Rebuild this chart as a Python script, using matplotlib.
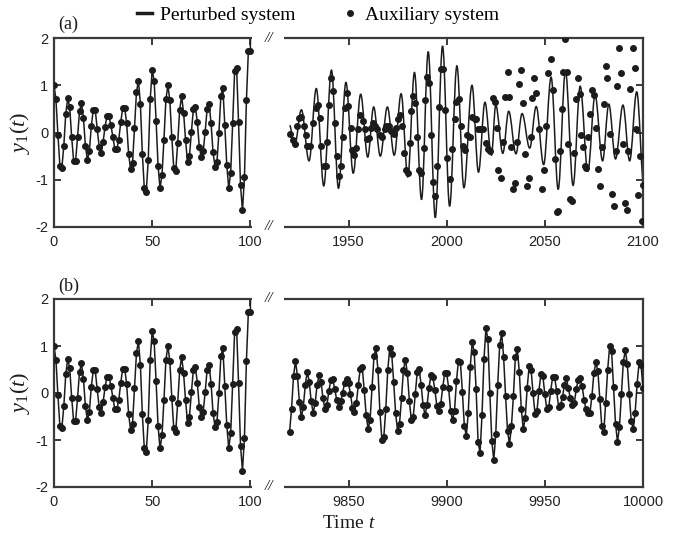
import numpy as np
import matplotlib.pyplot as plt
from matplotlib.lines import Line2D
from matplotlib.path import Path
from matplotlib.patches import PathPatch, Rectangle

plt.rcParams['font.family'] = 'Liberation Sans'
plt.rcParams['mathtext.fontset'] = 'custom'
plt.rcParams['mathtext.rm'] = 'Liberation Serif'
plt.rcParams['mathtext.it'] = 'Liberation Serif:italic'

ink = '#1c1c1c'
frame = '#3a3a3a'
serif = 'Liberation Serif'

### first block, t = 0 ... 100 (same in both panels)
t_first = np.arange(0, 101)
y_first = [1.0, 0.7, -0.05, -0.7, -0.75, -0.28, 0.4, 0.72, 0.53, -0.1,
           -0.6, -0.6, -0.1, 0.45, 0.63, 0.3, -0.28, -0.58, -0.4, 0.13,
           0.48, 0.48, 0.08, -0.3, -0.43, -0.2, 0.12, 0.35, 0.35, 0.15,
           -0.1, -0.35, -0.35, -0.15, 0.22, 0.52, 0.52, 0.2, -0.45, -0.78,
           -0.65, 0.1, 0.85, 1.1, 0.6, -0.45, -1.18, -1.25, -0.58, 0.7,
           1.32, 1.1, 0.25, -0.7, -1.18, -0.9, -0.15, 0.7, 1.0, 0.68,
           -0.1, -0.75, -0.82, -0.22, 0.48, 0.77, 0.42, -0.15, -0.63, -0.5,
           0.02, 0.5, 0.55, 0.22, -0.3, -0.52, -0.4, 0.02, 0.5, 0.6,
           0.2, -0.42, -0.72, -0.62, 0.0, 0.78, 0.95, 0.15, -0.68, -1.18,
           -0.85, 0.2, 1.3, 1.37, 0.22, -1.12, -1.65, -0.95, 0.68, 1.72,
           1.72]
# the curve leaves the box right after t = 100
t_first_end, y_first_end = 100.2, 2.4

### panel (a), second block: perturbed system (extrema of the curve)
a_curve_t = [1920.0, 1922.5, 1926.0, 1929.9, 1933.6, 1937.4, 1941.3, 1944.9,
             1948.7, 1952.4, 1956.2, 1959.8, 1962.8, 1966.2, 1969.8, 1973.3,
             1976.8, 1980.2, 1983.6, 1987.2, 1990.6, 1994.2, 1997.9, 2001.5,
             2005.2, 2008.8, 2012.9, 2016.2, 2019.5, 2022.8, 2025.0, 2028.6,
             2031.6, 2035.3, 2038.4, 2042.3, 2045.6, 2049.4, 2053.2, 2056.8,
             2060.5, 2064.4, 2068.0, 2071.9, 2075.6, 2079.4, 2082.6, 2086.0,
             2089.8, 2093.2, 2096.8, 2100.5]
a_curve_y = [0.15, -0.3, 0.48, -0.6, 0.93, -1.13, 1.32, -1.18,
             1.06, -0.86, 0.81, -0.52, 0.54, -0.5, 0.54, -0.48,
             0.82, -0.94, 1.27, -1.42, 1.71, -1.8, 1.83, -1.56,
             1.41, -1.17, 1.0, -0.84, 0.64, -0.48, 0.58, -0.44,
             0.45, -0.45, 0.4, -0.33, 0.55, -0.68, 1.17, -1.2,
             1.3, -1.12, 0.98, -0.82, 0.79, -0.6, 0.6, -0.56,
             0.58, -0.6, 0.86, -1.15]

### panel (a), second block: auxiliary system samples
a_dots_t = [1920.1, 1921.8, 1922.6, 1923.8, 1924.8, 1926.0, 1927.2, 1928.2, 1928.9, 1930.2,
            1931.9, 1933.3, 1934.5, 1935.3, 1936.2, 1937.4, 1938.4, 1939.2, 1940.1, 1941.3,
            1942.1, 1943.0, 1944.2, 1945.0, 1946.4, 1947.2, 1948.2, 1949.0, 1949.8, 1951.1,
            1952.0, 1952.7, 1953.7, 1954.9, 1956.1, 1957.4, 1958.4, 1959.4, 1960.5, 1961.3,
            1962.5, 1963.7, 1964.7, 1965.9, 1967.2, 1968.4, 1969.3, 1970.6, 1971.8, 1973.0,
            1974.0, 1975.2, 1976.4, 1977.4, 1978.1, 1979.2, 1980.2, 1981.2, 1982.0, 1982.9,
            1984.1, 1984.9, 1985.9, 1987.1, 1988.3, 1989.2, 1990.0, 1991.0, 1992.2, 1993.1,
            1994.3, 1995.3, 1996.1, 1997.3, 1998.2, 1999.2, 2000.2, 2001.6, 2002.7, 2004.1,
            2005.0, 2006.1, 2007.2, 2008.3, 2009.4, 2010.4, 2012.1, 2013.1, 2014.3, 2015.1,
            2016.0, 2017.2, 2018.5, 2020.2, 2021.1, 2021.9, 2023.7, 2024.5, 2025.5, 2026.3,
            2027.5, 2028.5, 2029.7, 2031.0, 2032.0, 2033.0, 2034.0, 2034.8, 2036.0, 2037.0,
            2037.9, 2039.0, 2039.8, 2040.7, 2041.7, 2042.7, 2043.7, 2044.6, 2045.7, 2046.9,
            2048.6, 2049.5, 2050.8, 2051.7, 2052.9, 2054.0, 2055.1, 2056.0, 2056.7, 2057.5,
            2058.5, 2059.3, 2060.2, 2061.1, 2062.0, 2062.8, 2063.8, 2064.9, 2066.0, 2067.0,
            2067.9, 2068.6, 2069.5, 2070.3, 2071.2, 2072.1, 2072.9, 2073.9, 2074.9, 2076.0,
            2077.1, 2078.1, 2079.1, 2080.0, 2081.0, 2081.8, 2083.0, 2084.3, 2085.1, 2086.0,
            2086.8, 2088.0, 2089.0, 2089.8, 2090.7, 2091.8, 2092.6, 2093.5, 2094.8, 2095.7,
            2096.6, 2097.7, 2098.6, 2099.4, 2099.9]
a_dots_y = [-0.04, -0.15, -0.25, 0.14, 0.30, 0.33, 0.14, -0.06, -0.28, -0.28,
            0.2, 0.52, 0.58, 0.3, -0.28, -0.7, -0.7, -0.2, 0.58, 1.16,
            0.88, 0.2, -0.5, -0.92, -0.7, -0.1, 0.52, 0.84, 0.56, 0.1,
            -0.36, -0.48, -0.32, 0.07, 0.38, 0.24, 0.07, -0.14, -0.11, 0.1,
            0.2, 0.14, 0.07, -0.06, -0.09, 0.08, 0.14, 0.14, 0.03, -0.04,
            0.1, 0.28, 0.38, 0.14, -0.43, -0.8, -0.85, -0.22, 0.46, 0.77,
            0.63, -0.09, -0.79, -0.86, -0.32, 0.69, 1.18, 1.04, -0.06, -1.05,
            -1.34, -0.71, 0.55, 1.35, 1.35, 0.48, -0.53, -0.99, -0.34, 0.28,
            0.65, 0.7, 0.14, -0.29, -0.37, -0.06, -0.09, 0.33, 0.29, 0.28,
            0.07, 0.07, 0.07, -0.22, -0.34, -0.39, 0.74, 0.65, 0.1, -0.8,
            -0.96, -0.2, 0.75, 1.27, 0.75, -0.3, -1.2, -1.06, -0.2, 1.02,
            1.32, 0.63, -0.46, -1.13, -0.96, -0.1, 0.74, 1.16, 0.84, 0.07,
            -1.19, -0.8, 0.14, 1.25, 1.56, 0.91, -0.57, -1.68, -1.66, -0.39,
            0.5, 1.27, 1.97, 1.28, -0.25, -1.41, -1.45, -0.43, 0.7, 1.16,
            0.81, -0.06, -0.3, -0.71, -0.76, -0.1, 0.39, 0.9, 0.79, 0.1,
            -0.78, -1.13, -0.3, 0.6, 1.41, 1.16, -0.04, -1.31, -1.56, -0.4,
            0.99, 1.78, 1.25, -0.25, -1.49, -1.63, -0.4, 0.93, 1.78, 1.37,
            0.08, -1.32, -0.5, -1.87, -1.12]

### panel (b), second block
t_b = np.arange(9820, 10001)
y_b = [-0.82, -0.33, 0.36, 0.68, 0.36, -0.2, -0.52, -0.29, 0.18, 0.45,
       0.24, -0.18, -0.42, -0.22, 0.17, 0.38, 0.24, -0.11, -0.35, -0.26,
       0.04, 0.28, 0.29, 0.08, -0.15, -0.29, -0.18, -0.01, 0.22, 0.29,
       0.21, -0.02, -0.31, -0.4, -0.22, 0.18, 0.52, 0.55, 0.06, -0.47,
       -0.77, -0.57, 0.13, 0.79, 0.96, 0.49, -0.4, -0.99, -0.93, -0.33,
       0.49, 0.95, 0.84, 0.24, -0.43, -0.81, -0.65, -0.11, 0.5, 0.7,
       0.42, -0.17, -0.57, -0.5, -0.03, 0.44, 0.51, 0.17, -0.26, -0.47,
       -0.26, 0.11, 0.38, 0.33, 0.06, -0.27, -0.38, -0.23, 0.12, 0.42,
       0.42, 0.11, -0.38, -0.57, -0.38, 0.26, 0.69, 0.65, 0.03, -0.7,
       -0.91, -0.42, 0.55, 1.08, 0.88, 0.08, -1.04, -1.27, -0.47, 0.72,
       1.38, 1.14, -0.01, -1.02, -1.43, -0.87, 0.17, 1.02, 1.27, 0.77,
       -0.06, -0.81, -1.09, -0.7, -0.06, 0.77, 0.93, 0.45, -0.33, -0.77,
       -0.54, 0.1, 0.57, 0.5, -0.01, -0.45, -0.38, 0.05, 0.4, 0.36,
       -0.03, -0.34, -0.3, 0.05, 0.35, 0.33, 0.05, -0.29, -0.26, -0.08,
       0.18, 0.31, 0.1, -0.11, -0.26, -0.22, 0.08, 0.28, 0.31, 0.15,
       -0.15, -0.35, -0.42, -0.42, -0.06, 0.43, 0.65, 0.47, -0.13, -0.7,
       -0.84, -0.21, 0.49, 0.99, 0.89, 0.13, -0.65, -1.04, -0.73, -0.02,
       0.67, 0.91, 0.62, -0.02, -0.59, -0.77, -0.42, 0.19, 0.65, 0.6,
       0.1]

a_labels = ['0', '50', '100', '1950', '2000', '2050', '2100']
b_labels = ['0', '50', '100', '9850', '9900', '9950', '10000']
a_shift = 1800   # axis position of the right block = t - shift
b_shift = 9700


def smooth_path(ts, ys):
    # horizontal tangents at every extremum, cubic pieces in between
    verts = [(ts[0], ys[0])]
    codes = [Path.MOVETO]
    for (ta, ya), (tb, yb) in zip(zip(ts[:-1], ys[:-1]), zip(ts[1:], ys[1:])):
        d = (tb - ta) * 0.36
        verts += [(ta + d, ya), (tb - d, yb), (tb, yb)]
        codes += [Path.CURVE4] * 3
    return Path(verts, codes)


def dress(ax, labels):
    ax.set_xlim(0, 300)
    ax.set_ylim(-2, 2)
    ax.set_xticks([0, 50, 100, 150, 200, 250, 300])
    ax.set_xticklabels(labels)
    ax.set_yticks([-2, -1, 0, 1, 2])
    ax.set_yticklabels(['-2', '-1', '0', '1', '2'])
    ax.tick_params(direction='in', top=True, right=True, length=5, width=1.4,
                   color=frame, labelsize=10.5, labelcolor='#222222')
    ax.tick_params(axis='x', pad=6)
    ax.tick_params(axis='y', pad=4)
    for s in ax.spines.values():
        s.set_linewidth(1.6)
        s.set_color(frame)
    # axis break
    for yy in (-2, 2):
        ax.add_patch(Rectangle((101, yy - 0.07), 16, 0.14, fc='white', ec='none',
                               clip_on=False, zorder=5))
        ax.text(109.5, yy, '//', ha='center', va='center', fontsize=11,
                family=serif, style='italic', color=ink, zorder=6, clip_on=False)
    ax.set_ylabel(r'$y_1(t)$', fontsize=16, color=ink)
    ax.yaxis.set_label_coords(-0.037, 0.5)


fig = plt.figure(figsize=(6.84, 5.37), dpi=100)
ax_a = fig.add_axes([54 / 684, 1 - 227 / 537, 589 / 684, 189 / 537])
ax_b = fig.add_axes([54 / 684, 1 - 487 / 537, 589 / 684, 188 / 537])

lw = 1.1
ms = 4.0
t_line = list(t_first) + [t_first_end]
y_line = y_first + [y_first_end]

for ax in (ax_a, ax_b):
    ax.plot(t_line, y_line, color=ink, lw=lw, zorder=2)
    ax.plot(t_first, y_first, 'o', color=ink, ms=ms, zorder=3)

# (a) second block
ax_a.add_patch(PathPatch(smooth_path(np.array(a_curve_t) - a_shift, a_curve_y),
                         fill=False, ec=ink, lw=lw, zorder=2))
ax_a.plot(np.array(a_dots_t) - a_shift, a_dots_y, 'o', color=ink, ms=ms, zorder=3)

# (b) second block
ax_b.plot(t_b - b_shift, y_b, '-o', color=ink, lw=lw, ms=ms, zorder=3)

dress(ax_a, a_labels)
dress(ax_b, b_labels)

ax_a.text(0.007, 1.07, '(a)', transform=ax_a.transAxes, ha='left', va='center',
          fontsize=13, family=serif, color=ink)
ax_b.text(0.007, 1.066, '(b)', transform=ax_b.transAxes, ha='left', va='center',
          fontsize=13, family=serif, color=ink)

fig.text(348.5 / 684, 1 - 524 / 537, 'Time $t$', ha='center', va='center',
         fontsize=14, family=serif, color=ink)

handles = [Line2D([], [], color=ink, lw=2.5),
           Line2D([], [], ls='none', marker='o', color=ink, ms=ms)]
fig.legend(handles, ['Perturbed system', 'Auxiliary system'], ncol=2,
           loc='center', bbox_to_anchor=(318 / 684, 1 - 15 / 537),
           frameon=False, handlelength=0.8, handletextpad=0.4,
           columnspacing=2.4, prop={'family': serif, 'size': 14})

fig.savefig('out.png', dpi=100)
